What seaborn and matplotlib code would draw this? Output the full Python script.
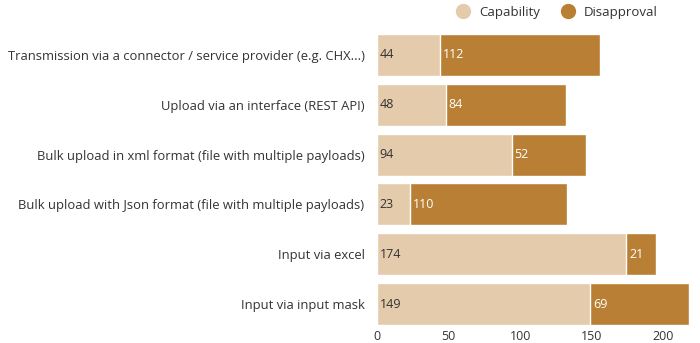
import matplotlib
matplotlib.use("Agg")
import matplotlib.pyplot as plt
import seaborn as sns
import pandas as pd
from matplotlib.lines import Line2D

categories = [
    "Transmission via a connector / service provider (e.g. CHX...)",
    "Upload via an interface (REST API)",
    "Bulk upload in xml format (file with multiple payloads)",
    "Bulk upload with Json format (file with multiple payloads)",
    "Input via excel",
    "Input via input mask",
]
capability = [44, 48, 94, 23, 174, 149]
disapproval = [112, 84, 52, 110, 21, 69]
series_names = ["Capability", "Disapproval"]

c_cap = "#e3cbab"
c_dis = "#b98035"
text_dark = "#333333"

sns.set_theme(style="white")
plt.rcParams["font.family"] = ["Open Sans", "DejaVu Sans"]

df = pd.DataFrame({"category": categories, "cap": capability, "dis": disapproval})
df["total"] = df["cap"] + df["dis"]

fig = plt.figure(figsize=(7, 3.43), dpi=100)
# axes spans x 377..692 px, y 30..329 px
ax = fig.add_axes([377 / 700, 1 - 329 / 343, 315 / 700, 299 / 343])

sns.barplot(data=df, y="category", x="total", color=c_dis, orient="h",
            width=0.84, saturation=1, ax=ax)
sns.barplot(data=df, y="category", x="cap", color=c_cap, orient="h",
            width=0.84, saturation=1, ax=ax)

for i, (c, d) in enumerate(zip(capability, disapproval)):
    ax.text(2, i, str(c), va="center", ha="left", fontsize=9, color=text_dark)
    ax.text(c + 2, i, str(d), va="center", ha="left", fontsize=9, color="white")

ax.set_xlim(0, 220)
ax.set_ylim(5.5, -0.5)
ax.set_xticks([0, 50, 100, 150, 200])
ax.set_xlabel("")
ax.set_ylabel("")
ax.tick_params(axis="both", length=0, labelsize=9, colors=text_dark)
ax.tick_params(axis="y", labelsize=9.4, pad=9)
ax.tick_params(axis="x", pad=1)
for s in ax.spines.values():
    s.set_visible(False)

handles = [Line2D([], [], marker="o", linestyle="", markersize=10, color=col)
           for col in (c_cap, c_dis)]
fig.legend(handles, series_names, loc="upper left", bbox_to_anchor=(0.626, 1.018),
           ncol=2, frameon=False, fontsize=9.5, handletextpad=0.2,
           columnspacing=1.1, labelcolor=text_dark)

fig.savefig("out.png", dpi=100)
